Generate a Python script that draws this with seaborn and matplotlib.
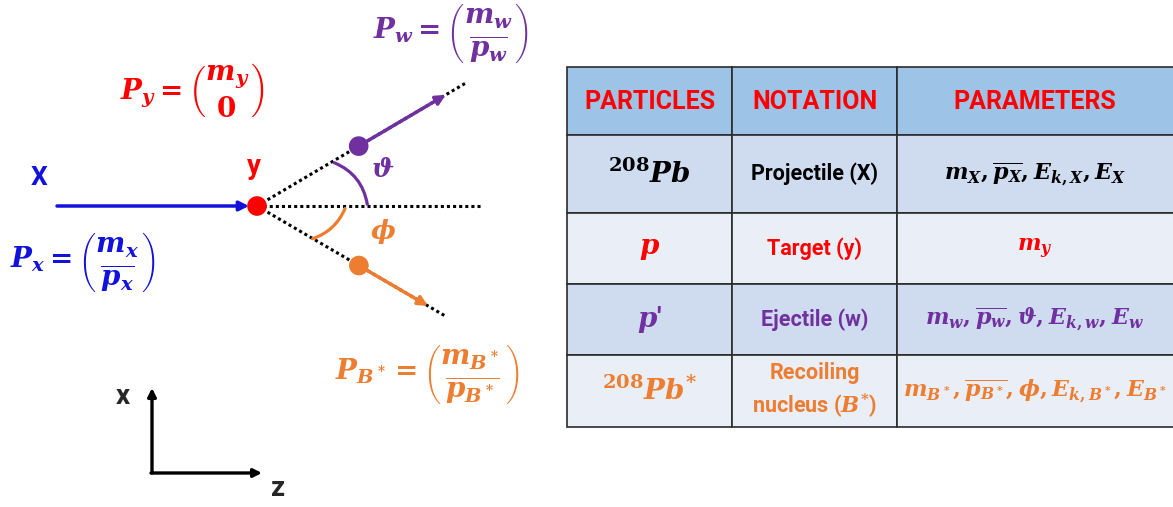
import numpy as np
import pandas as pd
import matplotlib
matplotlib.use("Agg")
import matplotlib.pyplot as plt
from matplotlib.patches import Rectangle, FancyArrowPatch
import seaborn as sns

# table content
headers = ["PARTICLES", "NOTATION", "PARAMETERS"]
particles = [r"$^{208}Pb$", r"$p$", "$p$\u2032", r"$^{208}Pb^{*}$"]
notations = ["Projectile (X)", "Target (y)", "Ejectile (w)", "Recoiling\nnucleus ($B^{*}$)"]
parameters = [
    r"$m_X, \overline{p_X}, E_{k,X}, E_X$",
    r"$m_y$",
    r"$m_w, \overline{p_w}, \vartheta, E_{k,w}, E_w$",
    r"$m_{B^*}, \overline{p_{B^*}}, \phi, E_{k,B^*}, E_{B^*}$",
]
row_text_colors = ["black", "#FF0000", "#7030A0", "#ED7D31"]

# scattering angles (deg) of ejectile and recoil
theta_deg = 30.5
phi_deg = 30.3

BLUE = "#1212DD"
RED = "#FF0000"
PURPLE = "#7030A0"
ORANGE = "#ED7D31"

sns.set_theme(style="white")
plt.rcParams["font.family"] = ["Roboto", "DejaVu Sans"]
plt.rcParams["mathtext.fontset"] = "custom"
plt.rcParams["mathtext.rm"] = "DejaVu Serif:bold"
plt.rcParams["mathtext.it"] = "DejaVu Serif:italic:bold"
plt.rcParams["mathtext.bf"] = "DejaVu Serif:bold"

W, H = 1173, 507
fig = plt.figure(figsize=(W / 100, H / 100), dpi=100)
ax = fig.add_axes([0, 0, 1, 1])
ax.set_xlim(0, W)
ax.set_ylim(H, 0)
ax.axis("off")

# ---- reaction sketch ----
vx, vy = 257, 206
dot_r = 118
th = np.radians(theta_deg)
ph = np.radians(phi_deg)
w_pos = (vx + dot_r * np.cos(th), vy - dot_r * np.sin(th))
b_pos = (vx + dot_r * np.cos(ph), vy + dot_r * np.sin(ph))

dots = dict(lw=2.2, color="black", linestyle=(0, (1, 1)), dash_capstyle="butt", zorder=1)
ax.plot([vx, 482], [vy, vy], **dots)
ax.plot([vx, vx + 243 * np.cos(th)], [vy, vy - 243 * np.sin(th)], **dots)
ax.plot([vx, vx + 220 * np.cos(ph)], [vy, vy + 220 * np.sin(ph)], **dots)

def arrow(p0, p1, color, lw=2.5, ms=14):
    ax.add_patch(FancyArrowPatch(p0, p1, arrowstyle="-|>", mutation_scale=ms,
                                 color=color, lw=lw, shrinkA=0, shrinkB=0, zorder=3))

arrow((57, vy), (249, vy), BLUE)
arrow(w_pos, (vx + 219 * np.cos(th), vy - 219 * np.sin(th)), PURPLE)
arrow(b_pos, (vx + 198 * np.cos(ph), vy + 198 * np.sin(ph)), ORANGE)

pts = pd.DataFrame({"x": [vx, w_pos[0], b_pos[0]], "y": [vy, w_pos[1], b_pos[1]],
                    "who": ["y", "w", "B"]})
sns.scatterplot(data=pts, x="x", y="y", hue="who", palette=[RED, PURPLE, ORANGE],
                s=200, edgecolor="none", legend=False, ax=ax, zorder=4)

# angle arcs
ax.add_patch(FancyArrowPatch((331.7, 161.7), (367.7, 207), arrowstyle="-",
                             connectionstyle="arc3,rad=-0.3", color=PURPLE, lw=2.3, zorder=2))
ax.add_patch(FancyArrowPatch((346, 206), (310, 239.5), arrowstyle="-",
                             connectionstyle="arc3,rad=-0.25", color=ORANGE, lw=2.3, zorder=2))
ax.text(383, 170, r"$\vartheta$", color=PURPLE, fontsize=19, ha="center", va="center")
ax.text(383, 232, r"$\phi$", color=ORANGE, fontsize=19, ha="center", va="center")

ax.text(39, 178, "X", color=BLUE, fontsize=19, fontweight="bold", ha="center", va="center")
ax.text(254, 166, "y", color=RED, fontsize=20, fontweight="bold", ha="center", va="center")

eq = dict(fontsize=20, ha="left", va="center")
ax.text(120, 90, r"$P_y = \genfrac{(}{)}{0}{0}{m_y}{0}$", color=RED, **eq)
ax.text(373, 33, r"$P_w = \genfrac{(}{)}{0}{0}{m_w}{\overline{p_w}}$", color=PURPLE, **eq)
ax.text(10, 263, r"$P_x = \genfrac{(}{)}{0}{0}{m_x}{\overline{p_x}}$", color=BLUE, **eq)
ax.text(335, 375, r"$P_{B^*} = \genfrac{(}{)}{0}{0}{m_{B^*}}{\overline{p_{B^*}}}$", color=ORANGE, **eq)

# coordinate axes
arrow((152, 473), (152, 388), "black", lw=2.4, ms=12)
arrow((151, 473), (262, 473), "black", lw=2.4, ms=12)
ax.text(123, 397, "x", fontsize=20, fontweight="bold", ha="center", va="center")
ax.text(278, 489, "z", fontsize=20, fontweight="bold", ha="center", va="center")

# ---- table ----
col_edges = [567, 732, 897, 1176]
row_edges = [67, 135, 213, 284, 355, 427]
fills = ["#9DC3E6", "#CFDBEE", "#E9EEF7", "#CFDBEE", "#E9EEF7"]

for r in range(5):
    for c in range(3):
        ax.add_patch(Rectangle((col_edges[c], row_edges[r]),
                               col_edges[c + 1] - col_edges[c],
                               row_edges[r + 1] - row_edges[r],
                               facecolor=fills[r], edgecolor="#2b2b2b", lw=1.2, zorder=1))

cx = [(col_edges[i] + col_edges[i + 1]) / 2 for i in range(3)]
cx[2] = 1035
cy = [(row_edges[i] + row_edges[i + 1]) / 2 for i in range(5)]

for c, h in enumerate(headers):
    ax.text(cx[c], cy[0] + 1, h, color=RED, fontsize=18, fontweight="bold",
            ha="center", va="center")

for i in range(4):
    col = row_text_colors[i]
    ax.text(cx[0], cy[i + 1], particles[i], color=col, fontsize=20, ha="center", va="center",
            fontweight="bold")
    ax.text(cx[1], cy[i + 1], notations[i], color=col, fontsize=15.5, fontweight="bold",
            ha="center", va="center", linespacing=1.35)
    ax.text(cx[2], cy[i + 1], parameters[i], color=col, fontsize=16, ha="center", va="center")

fig.savefig("out.png", dpi=100)
